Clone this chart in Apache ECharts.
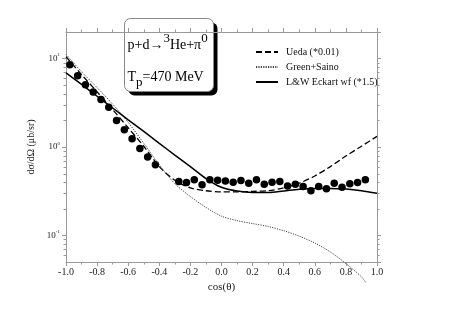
<!DOCTYPE html>
<html lang="en">
<head>
    <meta charset="UTF-8">
    <title>p+d -> 3He+pi0</title>
    <script src="https://cdn.jsdelivr.net/npm/echarts@6/dist/echarts.min.js"></script>
    <style>
        body { margin: 0; padding: 0; overflow: hidden; background: #fff; }
        #main { width: 470px; height: 327px; }
    </style>
</head>
<body>
<div id="main"></div>
<script>
    // measured points
    var pointsX = [-0.975, -0.925, -0.875, -0.825, -0.775, -0.725, -0.675, -0.625, -0.575, -0.525, -0.475, -0.425,
        -0.275, -0.225, -0.175, -0.125, -0.075, -0.025, 0.025, 0.075, 0.125, 0.175, 0.225, 0.275, 0.325, 0.375,
        0.425, 0.475, 0.525, 0.575, 0.625, 0.675, 0.725, 0.775, 0.825, 0.875, 0.925];
    var pointsY = [8.5, 6.4, 5.05, 4.2, 3.45, 2.82, 2.0, 1.57, 1.24, 0.96, 0.77, 0.63,
        0.406, 0.396, 0.425, 0.373, 0.425, 0.42, 0.412, 0.40, 0.417, 0.39, 0.425, 0.38, 0.40, 0.406,
        0.363, 0.38, 0.357, 0.319, 0.357, 0.336, 0.39, 0.351, 0.383, 0.396, 0.425];

    // model curves
    var curveX = [-1.0, -0.9, -0.8, -0.7, -0.6, -0.5, -0.4, -0.3, -0.2, -0.1, 0.0, 0.1, 0.2, 0.3, 0.4, 0.5, 0.6, 0.7, 0.8, 0.9, 1.0];
    var uedaY = [10.5, 6.6, 4.2, 2.65, 1.65, 1.02, 0.6, 0.42, 0.345, 0.32, 0.31, 0.31, 0.315, 0.32, 0.345, 0.39, 0.47, 0.6, 0.79, 1.02, 1.32];
    var lwY = [6.9, 5.1, 3.75, 2.76, 2.03, 1.5, 1.1, 0.81, 0.6, 0.44, 0.35, 0.317, 0.305, 0.305, 0.318, 0.333, 0.34, 0.34, 0.334, 0.32, 0.30];
    var greenX = [-1.0, -0.9, -0.8, -0.7, -0.6, -0.5, -0.4, -0.3, -0.2, -0.1, 0.0, 0.1, 0.2, 0.3, 0.4, 0.5, 0.6, 0.7, 0.8, 0.9, 0.93];
    var greenY = [11.2, 7.1, 4.7, 3.05, 1.9, 1.1, 0.63, 0.385, 0.275, 0.207, 0.165, 0.147, 0.136, 0.126, 0.113, 0.098, 0.082, 0.065, 0.048, 0.034, 0.029];

    var seriesNames = ['Ueda (*0.01)', 'Green+Saino', 'L&W Eckart wf (*1.5)'];
    var yMinorTicks = [0.06, 0.07, 0.08, 0.09, 0.2, 0.3, 0.4, 0.5, 0.6, 0.7, 0.8, 0.9, 2, 3, 4, 5, 6, 7, 8, 9];

    function pairs(xs, ys) {
        return xs.map(function (x, i) { return [x, ys[i]]; });
    }

    var font = '"Liberation Serif", "DejaVu Serif", serif';
    var axisGray = '#999';
    var app = echarts.init(document.getElementById('main'));

    var xAxisBase = {
        type: 'value',
        min: -1,
        max: 1,
        interval: 0.2,
        axisLine: { onZero: false, lineStyle: { color: axisGray, width: 1 } },
        axisTick: { length: 4, lineStyle: { color: axisGray } },
        minorTick: { show: true, splitNumber: 2, length: 2.5, lineStyle: { color: axisGray } },
        splitLine: { show: false },
        minorSplitLine: { show: false }
    };

    var yAxisBase = {
        type: 'log',
        logBase: 10,
        min: 0.05,
        max: 20,
        splitNumber: 2,
        axisLine: { show: true, onZero: false, lineStyle: { color: axisGray, width: 1 } },
        axisTick: { length: 4, lineStyle: { color: axisGray } },
        splitLine: { show: false }
    };

    option = {
        animation: false,
        backgroundColor: '#fff',
        textStyle: { fontFamily: font },
        grid: { left: 66, right: 93, top: 32, bottom: 65 },
        legend: {
            orient: 'vertical',
            left: 250,
            top: 42,
            itemWidth: 22,
            itemHeight: 8,
            itemGap: 5,
            itemStyle: { opacity: 0 },
            textStyle: { fontFamily: font, fontSize: 10, color: '#111', padding: [0, 0, 0, 3] },
            data: seriesNames
        },
        xAxis: [
            Object.assign({}, xAxisBase, {
                position: 'bottom',
                name: 'cos(θ)',
                nameLocation: 'middle',
                nameGap: 20,
                nameTextStyle: { fontFamily: font, fontSize: 11, color: '#222' },
                axisLabel: {
                    fontFamily: font, fontSize: 10, color: '#222', margin: 5,
                    formatter: function (v) { return (Math.abs(v) < 1e-9 ? 0 : v).toFixed(1); }
                }
            }),
            Object.assign({}, xAxisBase, { position: 'top', axisLabel: { show: false } })
        ],
        yAxis: [
            Object.assign({}, yAxisBase, {
                position: 'left',
                name: 'dσ/dΩ (μb/sr)',
                nameLocation: 'middle',
                nameRotate: 90,
                nameGap: 28,
                nameTextStyle: { fontFamily: font, fontSize: 10, color: '#222' },
                axisLabel: {
                    fontFamily: font, fontSize: 9, color: '#222', margin: 6,
                    showMinLabel: false, showMaxLabel: false,
                    formatter: function (v) {
                        var l = Math.log10(v), e = Math.round(l);
                        if (Math.abs(l - e) > 1e-6) return '';
                        return '10{s|' + e + '}';
                    },
                    rich: { s: { fontSize: 5, fontFamily: font, padding: [0, 0, 7, 0] } }
                }
            }),
            Object.assign({}, yAxisBase, { position: 'right', axisLabel: { show: false } })
        ],
        graphic: [{
            type: 'group',
            left: 124,
            top: 18,
            children: [
                { type: 'rect', shape: { x: 4, y: 4, width: 89, height: 73, r: 6 }, style: { fill: '#000' } },
                { type: 'rect', shape: { x: 0, y: 0, width: 89, height: 73, r: 6 }, style: { fill: '#fff', stroke: '#888', lineWidth: 1 } },
                {
                    type: 'text', x: 3, y: 14,
                    style: {
                        text: 'p+d→{sup|3}He+π{sup|0}',
                        font: '14px ' + font, fill: '#000',
                        rich: { sup: { fontSize: 13, fontFamily: font, padding: [0, 0, 12, 0] } }
                    }
                },
                {
                    type: 'text', x: 3, y: 46,
                    style: {
                        text: 'T{sub|p}=470 MeV',
                        font: '14px ' + font, fill: '#000',
                        rich: { sub: { fontSize: 13, fontFamily: font, padding: [12, 0, 0, 0] } }
                    }
                }
            ]
        }],
        series: [{
            name: seriesNames[0],
            type: 'line',
            symbol: 'none',
            smooth: 0.3,
            lineStyle: { color: '#000', width: 1.3, type: [6, 3] },
            itemStyle: { color: '#000' },
            data: pairs(curveX, uedaY)
        }, {
            name: seriesNames[1],
            type: 'line',
            symbol: 'none',
            smooth: 0.3,
            clip: false,
            lineStyle: { color: '#444', width: 1, type: [1.2, 1.2] },
            itemStyle: { color: '#444' },
            data: pairs(greenX, greenY)
        }, {
            name: seriesNames[2],
            type: 'line',
            symbol: 'none',
            smooth: 0.3,
            lineStyle: { color: '#000', width: 1.5 },
            itemStyle: { color: '#000' },
            data: pairs(curveX, lwY)
        }, {
            name: 'data',
            type: 'scatter',
            symbol: 'circle',
            symbolSize: 7.5,
            itemStyle: { color: '#000', opacity: 1 },
            data: pairs(pointsX, pointsY)
        }, {
            // log minor ticks on left and right sides
            type: 'custom',
            silent: true,
            clip: false,
            data: yMinorTicks.map(function (v) { return [v]; }),
            renderItem: function (params, api) {
                var v = api.value(0);
                var pl = api.coord([-1, v]);
                var pr = api.coord([1, v]);
                var y = Math.round(pl[1]) + 0.5;
                var st = { stroke: axisGray, lineWidth: 1 };
                return {
                    type: 'group',
                    children: [
                        { type: 'line', shape: { x1: pl[0] - 2.5, y1: y, x2: pl[0], y2: y }, style: st },
                        { type: 'line', shape: { x1: pr[0], y1: y, x2: pr[0] + 2.5, y2: y }, style: st }
                    ]
                };
            },
            encode: { y: 0 }
        }]
    };
    app.setOption(option);
</script>
</html>
